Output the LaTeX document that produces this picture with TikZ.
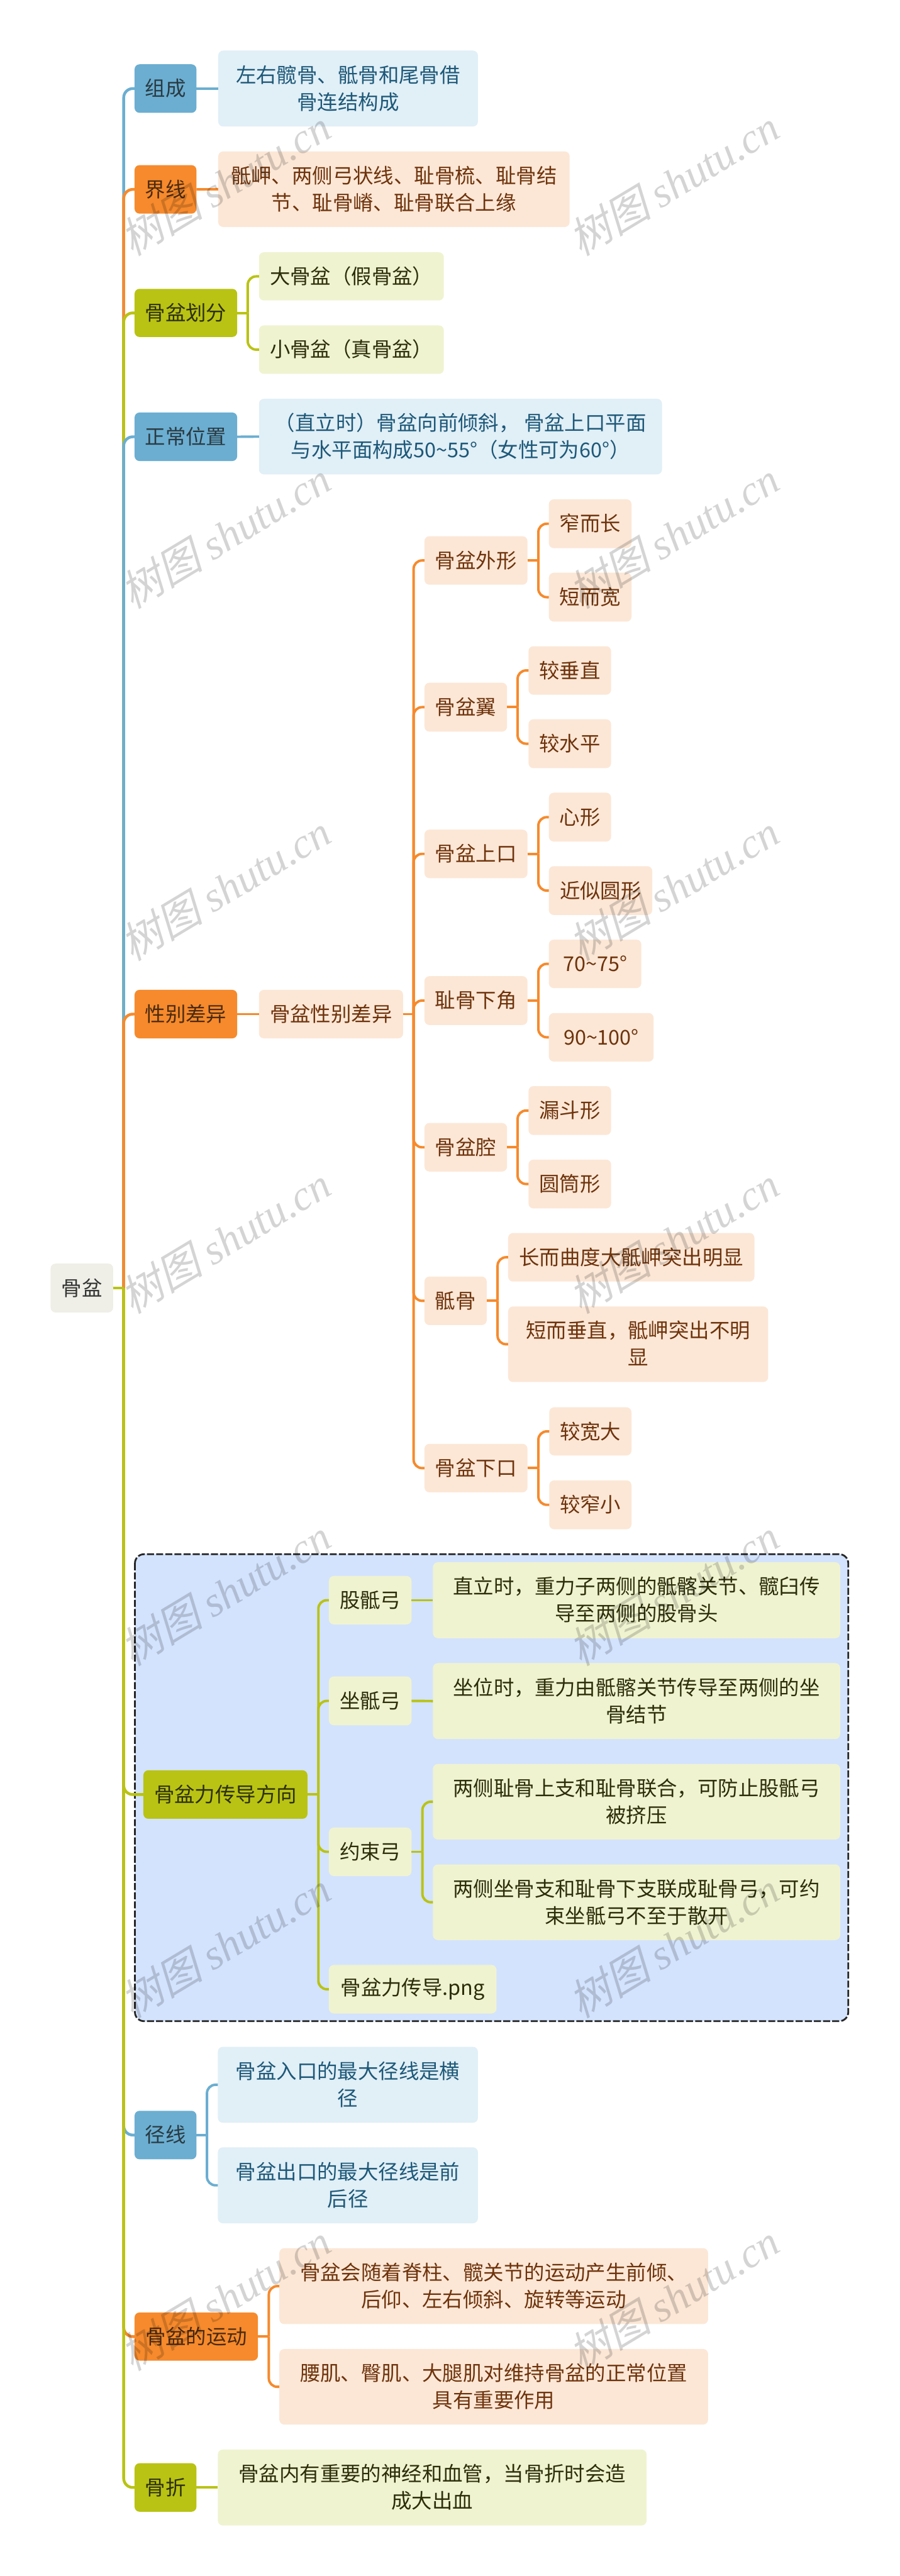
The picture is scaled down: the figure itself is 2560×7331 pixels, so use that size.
\documentclass[tikz,border=0pt]{standalone}
\usepackage{fontspec}
\setmainfont{Noto Sans CJK SC}
\newfontfamily\wmcjk[FakeSlant=0.25]{Noto Sans CJK SC}
\newfontfamily\wmlat{Liberation Serif}[ItalicFont=* Italic]
\definecolor{cblue}{HTML}{6BAED1}
\definecolor{corange}{HTML}{F68A2C}
\definecolor{colive}{HTML}{B9C314}
\definecolor{lblue}{HTML}{E1EFF7}
\definecolor{lorange}{HTML}{FCE7D6}
\definecolor{lolive}{HTML}{F0F3D0}
\definecolor{lroot}{HTML}{EFEFE7}
\definecolor{tblue}{HTML}{1D5878}
\definecolor{torange}{HTML}{6E330C}
\definecolor{tolive}{HTML}{2C2E0A}
\definecolor{troot}{HTML}{333333}
\definecolor{boxbg}{HTML}{D3E3FD}
\definecolor{tmblue}{HTML}{2A3A42}
\definecolor{tmorange}{HTML}{4A2A10}
\newcommand\mystrut{\rule[-7pt]{0pt}{57pt}}
\newcommand\nd[7]{\node[#1,minimum width={(#5-#3)*1pt},minimum height={(#6-#4)*1pt}] (#2) at ({(#3+#5)/2},{(#4+#6)/2}) {\mystrut #7\mystrut};}
\newcommand\bra[4]{\draw[#1,line width=7pt] (#2.east) -- (#4 |- #2.east);
  \draw[#1,line width=7pt,rounded corners=24pt] (#4 |- #2.east) -- (#4 |- #3.west) -- (#3.west);}
\newcommand\spn[3]{\draw[#1,line width=8pt] (#2.east) -- (tkmain |- #2.east);
  \draw[#1,line width=8pt,rounded corners=26pt] (tkmain |- #2.east) -- (tkmain |- #3.west) -- (#3.west);}
\tikzset{
  base/.style={rounded corners=14pt,inner sep=0pt,outer sep=0pt,align=center,font=\fontsize{58}{77}\selectfont},
  rootn/.style={base,fill=lroot,text=troot},
  mblue/.style={base,fill=cblue,text=tmblue},
  morange/.style={base,fill=corange,text=tmorange},
  molive/.style={base,fill=colive,text=tolive},
  lb/.style={base,fill=lblue,text=tblue},
  lo/.style={base,fill=lorange,text=torange},
  ll/.style={base,fill=lolive,text=tolive},
  wmark/.style={black,opacity=0.17,rotate=31,inner sep=0pt,font=\fontsize{120}{120}\selectfont}
}
\begin{document}
\begin{tikzpicture}[x=1pt,y=-1pt]
\useasboundingbox[fill=white] (0,0) rectangle (2560,7331);
\draw[fill=boxbg,draw=black!85,line width=5pt,dash pattern=on 20pt off 6pt,rounded corners=26pt] (384,4423) rectangle (2414,5752);
\coordinate (tkmain) at (352,0);
\coordinate (tkdiv) at (705,0);
\coordinate (tksex) at (1177,0);
\coordinate (tkw) at (1532,0);
\coordinate (tky) at (1473,0);
\coordinate (tkg) at (1416,0);
\coordinate (tkf) at (906,0);
\coordinate (tkc) at (1202,0);
\coordinate (tkj) at (589,0);
\coordinate (tkm) at (765,0);
% root
\nd{rootn}{root}{144}{3596}{322}{3735}{骨盆}
% main
\nd{mblue}{a1}{383}{183}{559}{321}{组成}
\nd{lb}{a1x}{621}{144}{1360}{360}{左右髋骨、骶骨和尾骨借\\骨连结构成}
\nd{morange}{a2}{383}{470}{559}{608}{界线}
\nd{lo}{a2x}{621}{431}{1621}{646}{骶岬、两侧弓状线、耻骨梳、耻骨结\\节、耻骨嵴、耻骨联合上缘}
\nd{molive}{a3}{383}{822}{675}{959}{骨盆划分}
\nd{ll}{a3x}{737}{718}{1263}{855}{大骨盆（假骨盆）}
\nd{ll}{a3y}{737}{926}{1263}{1064}{小骨盆（真骨盆）}
\nd{mblue}{a4}{383}{1174}{675}{1312}{正常位置}
\nd{lb}{a4x}{737}{1135}{1884}{1350}{（直立时）骨盆向前倾斜， 骨盆上口平面\\与水平面构成50\char`\~55°（女性可为60°）}
\nd{morange}{a5}{383}{2817}{675}{2955}{性别差异}
\nd{lo}{a5x}{737}{2817}{1147}{2955}{骨盆性别差异}
\nd{lo}{b1}{1208}{1526}{1501}{1664}{骨盆外形}
\nd{lo}{b1x}{1562}{1421}{1797}{1560}{窄而长}
\nd{lo}{b1y}{1562}{1630}{1797}{1769}{短而宽}
\nd{lo}{b2}{1208}{1943}{1443}{2082}{骨盆翼}
\nd{lo}{b2x}{1504}{1839}{1739}{1977}{较垂直}
\nd{lo}{b2y}{1504}{2047}{1739}{2186}{较水平}
\nd{lo}{b3}{1208}{2361}{1501}{2499}{骨盆上口}
\nd{lo}{b3x}{1562}{2256}{1739}{2395}{心形}
\nd{lo}{b3y}{1562}{2465}{1856}{2604}{近似圆形}
\nd{lo}{b4}{1208}{2778}{1501}{2917}{耻骨下角}
\nd{lo}{b4x}{1562}{2674}{1825}{2812}{70\char`\~75°}
\nd{lo}{b4y}{1562}{2883}{1860}{3021}{90\char`\~100°}
\nd{lo}{b5}{1208}{3196}{1443}{3334}{骨盆腔}
\nd{lo}{b5x}{1504}{3091}{1739}{3230}{漏斗形}
\nd{lo}{b5y}{1504}{3300}{1739}{3439}{圆筒形}
\nd{lo}{b6}{1208}{3633}{1385}{3771}{骶骨}
\nd{lo}{b6x}{1446}{3509}{2147}{3647}{长而曲度大骶岬突出明显}
\nd{lo}{b6y}{1446}{3718}{2186}{3933}{短而垂直，骶岬突出不明\\显}
\nd{lo}{b7}{1208}{4109}{1501}{4247}{骨盆下口}
\nd{lo}{b7x}{1563}{4005}{1797}{4142}{较宽大}
\nd{lo}{b7y}{1563}{4213}{1797}{4352}{较窄小}
\nd{molive}{a6}{408}{5038}{875}{5176}{骨盆力传导方向}
\nd{ll}{c1}{936}{4485}{1171}{4623}{股骶弓}
\nd{ll}{c1x}{1232}{4446}{2391}{4662}{直立时，重力子两侧的骶髂关节、髋臼传\\导至两侧的股骨头}
\nd{ll}{c2}{936}{4771}{1171}{4910}{坐骶弓}
\nd{ll}{c2x}{1232}{4733}{2391}{4949}{坐位时，重力由骶髂关节传导至两侧的坐\\骨结节}
\nd{ll}{c3}{936}{5201}{1171}{5339}{约束弓}
\nd{ll}{c3x}{1232}{5020}{2391}{5235}{两侧耻骨上支和耻骨联合，可防止股骶弓\\被挤压}
\nd{ll}{c3y}{1232}{5306}{2391}{5521}{两侧坐骨支和耻骨下支联成耻骨弓，可约\\束坐骶弓不至于散开}
\nd{ll}{c4}{936}{5592}{1413}{5730}{骨盆力传导.png}
\nd{mblue}{a7}{383}{6007}{559}{6145}{径线}
\nd{lb}{a7x}{620}{5825}{1360}{6041}{骨盆入口的最大径线是横\\径}
\nd{lb}{a7y}{620}{6111}{1360}{6327}{骨盆出口的最大径线是前\\后径}
\nd{morange}{a8}{383}{6581}{734}{6718}{骨盆的运动}
\nd{lo}{a8x}{795}{6398}{2015}{6614}{骨盆会随着脊柱、髋关节的运动产生前倾、\\后仰、左右倾斜、旋转等运动}
\nd{lo}{a8y}{795}{6685}{2015}{6900}{腰肌、臀肌、大腿肌对维持骨盆的正常位置\\具有重要作用}
\nd{molive}{a9}{383}{7010}{559}{7148}{骨折}
\nd{ll}{a9x}{620}{6971}{1840}{7187}{骨盆内有重要的神经和血管，当骨折时会造\\成大出血}
% spine, later ones over earlier
\spn{cblue}{root}{a1}
\spn{corange}{root}{a2}
\spn{colive}{root}{a3}
\spn{cblue}{root}{a4}
\spn{corange}{root}{a5}
\spn{colive}{root}{a6}
\spn{cblue}{root}{a7}
\spn{corange}{root}{a8}
\spn{colive}{root}{a9}
% branches
\draw[cblue,line width=7pt] (a1.east) -- (a1x.west);
\draw[corange,line width=7pt] (a2.east) -- (a2x.west);
\bra{colive}{a3}{a3x}{tkdiv}
\bra{colive}{a3}{a3y}{tkdiv}
\draw[cblue,line width=7pt] (a4.east) -- (a4x.west);
\draw[corange,line width=7pt] (a5.east) -- (a5x.west);
\bra{corange}{a5x}{b1}{tksex}
\bra{corange}{a5x}{b2}{tksex}
\bra{corange}{a5x}{b3}{tksex}
\bra{corange}{a5x}{b4}{tksex}
\bra{corange}{a5x}{b5}{tksex}
\bra{corange}{a5x}{b6}{tksex}
\bra{corange}{a5x}{b7}{tksex}
\bra{corange}{b1}{b1x}{tkw}
\bra{corange}{b1}{b1y}{tkw}
\bra{corange}{b2}{b2x}{tky}
\bra{corange}{b2}{b2y}{tky}
\bra{corange}{b3}{b3x}{tkw}
\bra{corange}{b3}{b3y}{tkw}
\bra{corange}{b4}{b4x}{tkw}
\bra{corange}{b4}{b4y}{tkw}
\bra{corange}{b5}{b5x}{tky}
\bra{corange}{b5}{b5y}{tky}
\bra{corange}{b6}{b6x}{tkg}
\bra{corange}{b6}{b6y}{tkg}
\bra{corange}{b7}{b7x}{tkw}
\bra{corange}{b7}{b7y}{tkw}
\bra{colive}{a6}{c1}{tkf}
\bra{colive}{a6}{c2}{tkf}
\bra{colive}{a6}{c3}{tkf}
\bra{colive}{a6}{c4}{tkf}
\draw[colive,line width=7pt] (c1.east) -- (c1x.west);
\draw[colive,line width=7pt] (c2.east) -- (c2x.west);
\bra{colive}{c3}{c3x}{tkc}
\bra{colive}{c3}{c3y}{tkc}
\bra{cblue}{a7}{a7x}{tkj}
\bra{cblue}{a7}{a7y}{tkj}
\bra{corange}{a8}{a8x}{tkm}
\bra{corange}{a8}{a8y}{tkm}
\draw[colive,line width=7pt] (a9.east) -- (a9x.west);
% watermarks
\foreach \r in {0,...,6}{
  \foreach \cx/\cn in {640/l,1916/r}{
    \node[wmark] (wm\r\cn) at ({\cx},{520+1003*\r}) {{\wmcjk 树图} {\wmlat\itshape shutu.cn}};
  }
}
\end{tikzpicture}
\end{document}
